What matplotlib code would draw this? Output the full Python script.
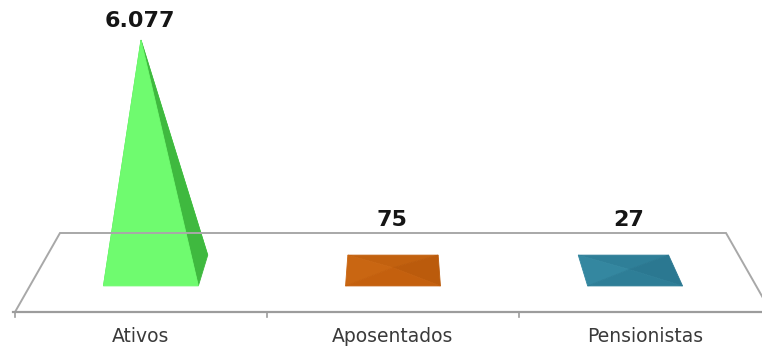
import matplotlib
matplotlib.use("Agg")
import matplotlib.pyplot as plt
from matplotlib.patches import Polygon

# dados
categorias = ["Ativos", "Aposentados", "Pensionistas"]
valores = [6077, 75, 27]
cores = [
    # frente, tras, esquerda, direita
    ["#6ffb6f", "#5fe85f", "#5ae05a", "#3fb93f"],
    ["#c4600e", "#c2610f", "#c96612", "#bb5b0c"],
    ["#2e7e97", "#2f7f98", "#3487a0", "#2b7891"],
]

# parametros da perspectiva (unidades do eixo = pixels da figura)
CX = 393.0        # centro de fuga
X0 = 141.0        # centro da primeira categoria na borda da frente
PASSO = 252.0     # distancia entre categorias
YF = 312.0        # borda da frente do piso
PROF = 79.0       # profundidade do piso
ALT = 230.5       # altura do maior valor
KD = 0.119        # encolhimento com a profundidade
KH = 0.0625       # crescimento com a altura
VMAX = max(valores)
MEIA_LARG = 0.196  # meia largura da base, em categorias
D0, D1 = 0.33, 0.72  # profundidade da base


def proj(x, d, v):
    h = v / VMAX
    s = 1 - KD * d + KH * h
    px = CX + (X0 + PASSO * x - CX) * s
    py = YF - PROF * d - ALT * h
    return px, py


fig = plt.figure(figsize=(7.62, 3.5), dpi=100)
ax = fig.add_axes([0, 0, 1, 1])
ax.set_xlim(0, 762)
ax.set_ylim(350, 0)
ax.axis("off")

# piso
cinza = "#a8a8a8"
n = len(categorias)
fl = proj(-0.5, 0, 0)
bl = proj(-0.5, 1, 0)
br = proj(n - 0.5, 1, 0)
fr = proj(n - 0.5, 0, 0)
ax.plot([fl[0], bl[0], br[0], fr[0]], [fl[1], bl[1], br[1], fr[1]],
        color=cinza, lw=1.4, solid_joinstyle="miter")
ax.plot([fl[0] - 2, fr[0]], [fl[1], fr[1]], color="#9c9c9c", lw=1.6)
for k in range(n + 1):
    tx, ty = proj(k - 0.5, 0, 0)
    ax.plot([tx, tx], [ty, ty + 5], color="#9c9c9c", lw=1.2)

# piramides
for i, (cat, v) in enumerate(zip(categorias, valores)):
    a = proj(i - MEIA_LARG, D0, 0)
    b = proj(i + MEIA_LARG, D0, 0)
    c = proj(i + MEIA_LARG, D1, 0)
    d = proj(i - MEIA_LARG, D1, 0)
    topo = proj(i, (D0 + D1) / 2, v)
    frente, tras, esq, dire = cores[i]
    faces = [
        ([d, c, topo], tras),
        ([a, d, topo], esq),
        ([b, c, topo], dire),
        ([a, b, topo], frente),
    ]
    for pts, cor in faces:
        ax.add_patch(Polygon(pts, closed=True, facecolor=cor,
                             edgecolor=cor, lw=0.6))

    # rotulo de valor
    ly = min(topo[1] - 9, proj(i, 1, 0)[1] - 3)
    txt = f"{v:,}".replace(",", ".")
    ax.text(topo[0] - 1, ly, txt, ha="center", va="bottom",
            fontsize=16, fontweight="bold", color="#151515")

    # rotulo da categoria
    cx, cy = proj(i, 0, 0)
    ax.text(cx, cy + 25, cat, ha="center", va="center",
            fontsize=13.5, color="#3a3a3a")

fig.savefig("out.png", dpi=100)
